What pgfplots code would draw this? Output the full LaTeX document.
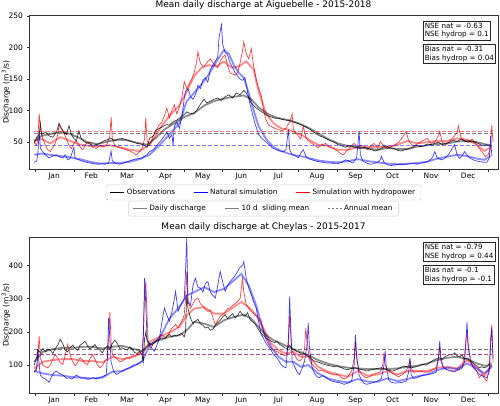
\documentclass[border=0pt]{standalone}
\usepackage{fontspec}
\setmainfont{DejaVu Sans}
\usepackage{pgfplots}
\pgfplotsset{compat=1.18}

\tikzset{mybox/.style={draw=black!85, fill=white, line width=0.6pt, inner sep=1.8pt, align=left, anchor=north west, font=\fontsize{7.2}{8.5}\selectfont}}
\pgfplotsset{
  myax/.style={
    scale only axis, width=469pt,
    xmin=-5.2, xmax=373,
    xtick={0,31,59,90,120,151,181,212,243,273,304,334,365},
    xticklabels={},
    extra x ticks={15,45,74,105,135,166,196,227,258,288,319,349},
    extra x tick labels={Jan,Feb,Mar,Apr,May,Jun,Jul,Aug,Sep,Oct,Nov,Dec},
    extra x tick style={major tick length=0pt},
    tick align=outside, major tick length=2.5pt,
    tick pos=left,
    tick style={black!80, line width=0.5pt},
    axis line style={black!80, line width=0.6pt},
    ticklabel style={font=\fontsize{7.5}{9}\selectfont},
    /pgf/number format/assume math mode=true,
    ylabel={Discharge (m\textsuperscript{3}/s)},
    every axis y label/.style={at={(rel axis cs:-0.0490,0.5)}, anchor=center, rotate=90, font=\fontsize{7.5}{9}\selectfont},
    title style={at={(0.5,1)}, anchor=south, yshift=-4pt, font=\fontsize{9}{10}\selectfont},
    legend image code/.code={\draw[#1] (0pt,0pt) -- (14pt,0pt);},
    legend cell align=left,
  },
  daily/.style={line width=0.7pt, opacity=0.75, forget plot},
  smooth/.style={line width=1.8pt, opacity=0.45, forget plot},
  amean/.style={line width=1pt, opacity=0.5, dash pattern=on 4pt off 2pt, forget plot},
  myleg/.style={legend style={anchor=north, legend columns=3, draw=black!18, rounded corners=2pt, inner xsep=4pt,
     font=\fontsize{7.3}{8.5}\selectfont, /tikz/every even column/.append style={column sep=16pt}}},
}

\begin{document}
\begin{tikzpicture}
\useasboundingbox (0,0) rectangle (500pt,-405pt);

% ================= TOP: Aiguebelle =================
\begin{axis}[myax, at={(29pt,-15.3pt)}, anchor=north west, height=154pt,
  ymin=7, ymax=251, ytick={50,100,150,200,250},
  title={Mean daily discharge at Aiguebelle - 2015-2018},
  myleg, legend style={at={(0.5,-0.10)}}]
\addlegendimage{black, line width=1pt}\addlegendentry{Observations}
\addlegendimage{blue, line width=1pt}\addlegendentry{Natural simulation}
\addlegendimage{red, line width=1pt}\addlegendentry{Simulation with hydropower}

% hydropower (red)
\addplot[red, daily] coordinates {
(-1,50) (1,45) (2,58) (3,95) (4,70) (6,55) (8,45) (10,38) (12,35) (14,42) (16,48) (18,62) (19,77) (21,70) (23,64) (25,55) (27,45) (29,40) (31,48) (33,52) (35,45) (38,38) (41,48) (44,50) (46,42) (49,40) (52,45) (55,42) (58,48) (60,60) (61,90) (62,55) (64,45) (67,42) (70,40) (73,38) (76,36) (79,33) (81,30) (84,35) (86,40) (88,55) (89,89) (90,52) (92,45) (95,60) (97,67) (99,75) (102,82) (104,92) (106,104) (108,88) (110,100) (112,109) (114,95) (116,105) (118,120) (120,146) (122,135) (124,142) (126,150) (128,160) (130,177) (131,193) (133,175) (135,170) (137,172) (139,178) (141,182) (143,176) (145,172) (147,168) (149,178) (151,185) (153,188) (155,170) (157,160) (159,158) (161,156) (163,160) (165,175) (167,195) (168,209) (170,190) (172,182) (174,198) (176,170) (178,150) (180,135) (182,125) (184,100) (186,85) (188,77) (190,75) (193,72) (196,70) (199,68) (202,72) (205,82) (207,95) (208,70) (210,64) (212,60) (214,55) (216,75) (218,58) (220,52) (223,48) (226,44) (228,41) (231,46) (234,48) (237,42) (240,40) (243,37) (246,32) (248,30) (250,34) (252,38) (255,45) (257,48) (260,42) (262,45) (265,44) (268,38) (270,44) (273,48) (276,40) (278,51) (281,44) (284,40) (287,43) (290,46) (293,50) (296,58) (299,67) (301,52) (304,44) (307,46) (310,50) (313,53) (316,56) (319,48) (322,50) (325,60) (326,67) (328,50) (331,46) (334,52) (337,58) (340,65) (341,76) (343,58) (346,52) (349,50) (352,55) (355,48) (358,40) (361,32) (363,27) (365,30) (367,40) (368,77) (369,50)};
\addplot[red, smooth] coordinates {
(-1,52) (5,55) (12,48) (20,58) (28,52) (36,46) (44,44) (52,44) (60,45) (68,42) (76,38) (84,36) (92,46) (100,70) (108,92) (116,108) (122,130) (128,155) (134,168) (140,172) (146,170) (152,178) (158,168) (164,170) (170,178) (176,165) (180,130) (186,95) (192,80) (198,72) (204,70) (210,65) (216,60) (222,52) (228,46) (236,44) (244,38) (252,38) (260,42) (268,42) (276,43) (284,42) (292,46) (300,52) (308,48) (316,50) (324,52) (332,52) (340,56) (348,54) (356,46) (362,36) (367,42)};

% natural (blue)
\addplot[blue, daily] coordinates {
(-1,18) (1,20) (2,33) (3,68) (4,40) (6,35) (8,30) (11,25) (14,28) (17,30) (20,26) (22,25) (24,30) (26,22) (28,24) (31,42) (32,24) (35,22) (38,20) (41,18) (44,17) (47,16) (50,15) (53,16) (56,15) (59,17) (61,36) (62,20) (65,16) (68,15) (71,17) (74,19) (77,21) (80,23) (83,24) (86,25) (88,28) (90,30) (92,35) (95,38) (98,45) (101,52) (104,60) (106,66) (108,56) (110,62) (111,45) (112,75) (114,82) (116,72) (118,88) (120,120) (121,130) (123,135) (125,122) (127,118) (129,125) (131,140) (133,135) (135,148) (137,152) (139,145) (141,165) (143,172) (145,178) (147,185) (148,215) (150,236) (151,205) (153,192) (155,188) (157,175) (159,168) (161,160) (163,155) (165,150) (167,148) (169,152) (171,130) (173,110) (175,95) (177,80) (180,62) (183,55) (186,50) (189,45) (191,41) (194,38) (197,36) (200,35) (202,38) (204,70) (205,38) (207,30) (210,28) (212,25) (214,33) (216,38) (218,28) (220,24) (223,22) (226,20) (229,19) (232,18) (235,17) (238,17) (241,16) (244,16) (247,18) (250,22) (253,20) (256,17) (259,25) (261,68) (262,30) (264,20) (267,17) (270,15) (273,16) (276,18) (278,22) (279,28) (281,18) (284,14) (287,13) (290,14) (293,15) (296,14) (299,15) (302,16) (305,16) (308,15) (311,17) (314,18) (317,20) (320,25) (322,35) (324,25) (327,22) (330,24) (333,30) (336,40) (338,46) (340,30) (342,24) (344,28) (346,35) (348,30) (350,25) (353,22) (356,20) (359,19) (362,18) (364,18) (366,25) (367,60) (368,28)};
\addplot[blue, smooth] coordinates {
(-1,30) (5,32) (12,30) (20,28) (28,26) (36,23) (44,19) (52,16) (60,17) (68,17) (76,19) (84,23) (92,30) (100,45) (108,62) (116,80) (122,115) (128,128) (134,142) (140,158) (146,178) (152,196) (156,190) (160,172) (164,160) (168,152) (172,128) (176,100) (180,75) (186,55) (192,42) (198,36) (204,32) (210,29) (216,27) (222,24) (228,21) (236,19) (244,18) (252,20) (260,23) (268,20) (276,18) (284,16) (292,15) (300,16) (308,17) (316,19) (324,24) (332,27) (340,30) (348,28) (356,24) (362,22) (367,28)};

% observations (black)
\addplot[black, daily] coordinates {
(-1,48) (1,58) (3,62) (4,80) (5,62) (8,66) (11,60) (14,58) (17,66) (19,80) (21,72) (23,66) (25,62) (27,76) (29,62) (31,56) (33,52) (35,68) (37,55) (40,50) (43,48) (46,45) (49,46) (52,48) (55,52) (58,54) (61,56) (64,52) (67,55) (70,56) (73,54) (76,52) (79,50) (82,48) (85,47) (88,45) (90,42) (92,56) (95,60) (97,69) (100,72) (103,75) (106,78) (108,77) (111,82) (114,85) (116,88) (119,92) (122,98) (124,96) (127,95) (130,100) (133,110) (136,118) (138,112) (141,115) (144,118) (147,120) (150,116) (153,122) (156,125) (159,120) (162,128) (165,125) (168,132) (170,128) (172,120) (174,112) (176,108) (178,104) (181,100) (184,96) (187,92) (190,90) (193,88) (196,88) (199,86) (202,85) (205,84) (208,82) (211,80) (214,78) (217,75) (220,72) (223,68) (226,64) (229,60) (232,58) (235,55) (238,52) (241,50) (244,46) (247,44) (250,42) (253,45) (256,43) (259,41) (262,40) (265,42) (268,40) (271,38) (274,36) (277,38) (280,42) (283,44) (286,41) (289,40) (292,37) (295,36) (298,38) (301,40) (304,42) (307,45) (310,43) (313,44) (316,47) (319,46) (322,48) (325,50) (328,46) (331,48) (334,50) (337,53) (340,51) (343,55) (346,52) (349,50) (352,52) (355,50) (358,47) (361,44) (364,46) (367,43)};
\addplot[black, smooth] coordinates {
(-1,52) (5,60) (12,63) (20,66) (28,63) (35,57) (42,50) (50,47) (58,51) (66,54) (74,53) (82,49) (90,46) (96,55) (104,70) (112,80) (120,90) (128,96) (136,108) (144,115) (152,119) (160,122) (168,124) (174,118) (180,105) (188,94) (196,88) (204,85) (212,80) (220,73) (228,64) (236,55) (244,48) (252,44) (260,42) (268,40) (276,38) (284,41) (292,39) (300,39) (308,43) (316,45) (324,47) (332,48) (340,51) (348,52) (356,50) (362,47) (367,45)};

% annual means
\addplot[black, amean] coordinates {(-1,64) (368,64)};
\addplot[red, amean] coordinates {(-1,67) (368,67)};
\addplot[blue, amean] coordinates {(-1,45) (368,45)};

\node[mybox] at (rel axis cs:0.8394,0.964) {NSE nat = -0.63\\NSE hydrop = 0.1};
\node[mybox] at (rel axis cs:0.8394,0.813) {Bias nat = -0.31\\Bias hydrop = 0.04};
\end{axis}

% second legend
\begin{axis}[myax, at={(29pt,-15.3pt)}, anchor=north west, height=154pt, hide axis,
  ymin=0, ymax=1, myleg, legend style={at={(0.5,-0.205)}}]
\addlegendimage{black, opacity=0.5, line width=0.8pt}\addlegendentry{Daily discharge}
\addlegendimage{black, opacity=0.5, line width=1.8pt}\addlegendentry{10 d~ sliding mean}
\addlegendimage{black, opacity=0.5, line width=0.8pt, dash pattern=on 2.5pt off 1.5pt}\addlegendentry{Annual mean}
\end{axis}

% ================= BOTTOM: Cheylas =================
\begin{axis}[myax, at={(29pt,-237.3pt)}, anchor=north west, height=156pt,
  ymin=15, ymax=485, ytick={100,200,300,400},
  title={Mean daily discharge at Cheylas - 2015-2017}]

\addplot[red, daily] coordinates {
(-1,80) (1,92) (2,130) (3,187) (4,120) (6,100) (8,95) (10,92) (12,100) (14,118) (16,132) (18,120) (20,108) (22,102) (24,130) (26,162) (28,130) (30,110) (32,98) (34,108) (36,122) (38,115) (40,105) (42,102) (44,120) (46,132) (48,118) (50,100) (52,92) (54,98) (56,112) (58,120) (59,180) (60,260) (61,170) (62,132) (64,125) (66,118) (68,110) (70,112) (72,118) (74,122) (76,120) (78,125) (80,127) (82,132) (84,138) (86,142) (87,200) (88,310) (89,352) (90,250) (91,162) (93,150) (95,165) (97,172) (99,180) (101,192) (103,188) (105,182) (107,190) (109,205) (111,215) (113,222) (115,212) (117,225) (119,240) (120,252) (121,300) (122,382) (123,290) (125,272) (127,285) (129,298) (131,302) (133,285) (135,277) (137,268) (139,262) (141,265) (143,245) (145,222) (147,235) (149,248) (151,252) (153,260) (155,270) (157,272) (159,280) (161,285) (163,292) (165,300) (166,330) (167,362) (168,320) (170,282) (172,270) (174,262) (176,255) (178,248) (180,242) (182,232) (184,200) (186,175) (188,162) (190,152) (192,145) (194,142) (196,138) (198,135) (200,130) (202,127) (204,160) (205,252) (206,180) (207,142) (209,130) (211,118) (213,112) (215,120) (217,150) (218,212) (219,170) (221,115) (223,102) (225,95) (227,88) (229,82) (231,85) (233,80) (235,78) (237,75) (239,72) (241,70) (243,72) (245,68) (247,62) (249,58) (251,62) (253,72) (255,82) (257,120) (258,172) (259,120) (261,85) (263,72) (265,65) (267,62) (270,66) (272,72) (275,75) (278,80) (280,100) (281,132) (282,100) (284,85) (287,78) (290,70) (293,65) (296,72) (299,82) (301,100) (302,117) (303,90) (305,78) (308,80) (311,82) (314,78) (317,80) (320,85) (323,90) (325,120) (326,157) (327,110) (329,92) (332,86) (335,84) (338,82) (341,88) (344,95) (346,130) (347,170) (348,202) (349,150) (351,110) (353,92) (356,80) (358,62) (360,72) (362,60) (364,52) (366,95) (367,180) (368,222) (369,110)};
\addplot[red, smooth] coordinates {
(-1,90) (6,110) (14,115) (22,118) (30,118) (38,112) (46,112) (54,108) (62,125) (70,118) (78,125) (86,135) (92,170) (100,185) (108,198) (116,215) (122,250) (128,270) (136,275) (144,255) (152,255) (160,275) (166,290) (172,275) (178,250) (184,210) (190,165) (196,145) (202,135) (208,140) (214,125) (220,125) (228,95) (236,80) (244,72) (252,65) (260,82) (268,68) (276,72) (284,82) (292,72) (300,82) (308,82) (316,82) (324,92) (332,95) (340,90) (348,115) (356,92) (362,68) (368,100)};

\addplot[blue, daily] coordinates {
(-1,80) (1,85) (2,152) (3,100) (4,70) (6,62) (8,58) (10,52) (11,48) (13,65) (15,78) (17,82) (19,75) (21,72) (23,68) (25,60) (27,62) (29,58) (31,62) (33,70) (35,65) (37,60) (39,62) (41,58) (43,57) (45,60) (47,62) (49,58) (51,62) (53,64) (55,67) (57,70) (58,120) (59,242) (60,180) (61,110) (63,82) (65,72) (67,75) (70,82) (73,88) (76,92) (79,100) (82,102) (84,108) (86,112) (87,180) (88,362) (89,280) (90,180) (92,162) (94,150) (96,142) (98,160) (100,182) (102,230) (104,272) (106,250) (108,232) (110,260) (112,300) (113,322) (115,262) (117,280) (119,292) (120,300) (121,380) (122,482) (123,292) (125,280) (127,340) (129,362) (131,335) (133,332) (135,320) (137,345) (139,352) (141,320) (143,310) (145,302) (147,340) (149,382) (151,350) (153,322) (155,340) (157,352) (159,360) (161,370) (163,382) (165,395) (167,400) (168,412) (170,360) (172,332) (174,312) (176,290) (178,272) (180,230) (182,192) (184,180) (186,165) (188,155) (190,145) (192,132) (194,125) (196,115) (198,102) (200,95) (202,92) (204,180) (205,307) (206,200) (207,112) (209,95) (211,80) (213,72) (215,90) (217,112) (219,160) (220,227) (221,150) (223,95) (225,75) (227,65) (229,62) (231,68) (233,66) (235,60) (237,55) (239,52) (241,50) (243,48) (245,47) (247,45) (249,42) (251,45) (253,47) (255,52) (257,100) (258,192) (259,130) (261,70) (263,55) (265,45) (267,42) (270,45) (273,48) (276,52) (279,60) (281,100) (282,142) (283,90) (285,55) (287,48) (290,46) (293,47) (296,48) (299,52) (301,80) (302,122) (303,70) (305,60) (308,62) (311,68) (314,70) (317,72) (320,74) (323,78) (325,120) (326,172) (327,120) (329,92) (332,86) (335,82) (338,80) (341,85) (344,90) (346,110) (347,160) (348,230) (349,160) (351,110) (353,95) (356,82) (358,72) (361,66) (364,62) (366,80) (367,160) (368,212) (369,120)};
\addplot[blue, smooth] coordinates {
(-1,82) (6,75) (14,70) (22,68) (30,64) (38,62) (46,60) (54,62) (62,80) (70,82) (78,95) (86,110) (92,160) (100,180) (108,240) (116,275) (122,310) (128,320) (136,335) (144,320) (152,330) (160,355) (166,375) (172,340) (178,280) (184,200) (190,155) (196,125) (202,110) (208,110) (214,95) (220,100) (228,75) (236,60) (244,52) (252,48) (260,58) (268,50) (276,50) (284,60) (292,52) (300,58) (308,66) (316,72) (324,85) (332,92) (340,88) (348,105) (356,90) (362,75) (368,95)};

\addplot[black, daily] coordinates {
(-1,100) (1,125) (2,145) (4,138) (6,150) (8,140) (10,148) (12,145) (14,135) (16,150) (18,160) (20,178) (22,165) (24,145) (26,140) (28,152) (30,160) (32,150) (34,145) (36,160) (38,165) (40,172) (42,158) (44,148) (46,155) (48,162) (50,150) (52,145) (54,137) (56,150) (58,158) (60,148) (62,165) (64,175) (66,165) (68,150) (70,152) (72,148) (74,145) (76,155) (78,148) (80,138) (82,135) (84,142) (86,130) (87,110) (88,180) (89,200) (90,172) (92,165) (94,160) (96,168) (98,175) (100,178) (102,182) (104,180) (106,188) (108,192) (110,185) (112,190) (114,188) (116,192) (118,195) (120,185) (121,200) (122,312) (123,270) (125,242) (127,225) (129,232) (131,238) (133,225) (135,220) (137,212) (139,215) (141,205) (143,208) (145,220) (147,228) (149,235) (151,245) (153,252) (155,240) (157,248) (159,255) (161,242) (163,250) (165,262) (167,252) (169,247) (171,258) (173,238) (175,230) (177,225) (179,212) (181,200) (183,192) (185,185) (187,178) (189,175) (191,170) (193,168) (195,172) (197,162) (199,158) (201,152) (203,150) (205,160) (207,148) (209,145) (211,140) (213,138) (215,132) (217,135) (219,128) (221,125) (223,117) (225,112) (227,110) (229,108) (231,104) (233,102) (235,100) (237,98) (239,97) (241,95) (243,98) (245,94) (247,92) (249,88) (252,86) (255,90) (258,92) (261,88) (264,86) (267,82) (270,85) (273,88) (276,90) (279,92) (282,88) (285,84) (288,82) (291,86) (294,92) (297,97) (300,95) (303,92) (306,94) (309,98) (312,102) (315,100) (318,108) (321,115) (324,120) (326,122) (328,118) (330,125) (332,128) (334,132) (336,130) (338,137) (340,128) (342,125) (344,130) (346,118) (348,122) (350,115) (352,110) (354,102) (356,98) (358,92) (360,95) (362,92) (364,95) (366,105) (368,107)};
\addplot[black, smooth] coordinates {
(-1,110) (6,140) (14,148) (22,152) (30,152) (38,155) (46,155) (54,150) (62,155) (70,158) (78,150) (86,142) (92,162) (100,175) (108,185) (116,190) (122,205) (128,230) (136,225) (144,215) (152,235) (160,245) (168,252) (174,240) (180,215) (186,190) (192,175) (198,165) (204,155) (212,142) (220,130) (228,115) (236,104) (244,97) (252,92) (260,90) (268,88) (276,88) (284,88) (292,90) (300,95) (308,98) (316,105) (324,115) (332,122) (340,125) (348,118) (356,105) (362,98) (368,100)};

\addplot[black, amean] coordinates {(-1,147) (368,147)};
\addplot[blue, amean] coordinates {(-1,132) (368,132)};
\addplot[red, amean, opacity=0.4] coordinates {(-1,132) (368,132)};

\node[mybox] at (rel axis cs:0.8394,0.968) {NSE nat = -0.79\\NSE hydrop = 0.44};
\node[mybox] at (rel axis cs:0.8394,0.822) {Bias nat = -0.1\\Bias hydrop = -0.1};
\end{axis}
\end{tikzpicture}
\end{document}
